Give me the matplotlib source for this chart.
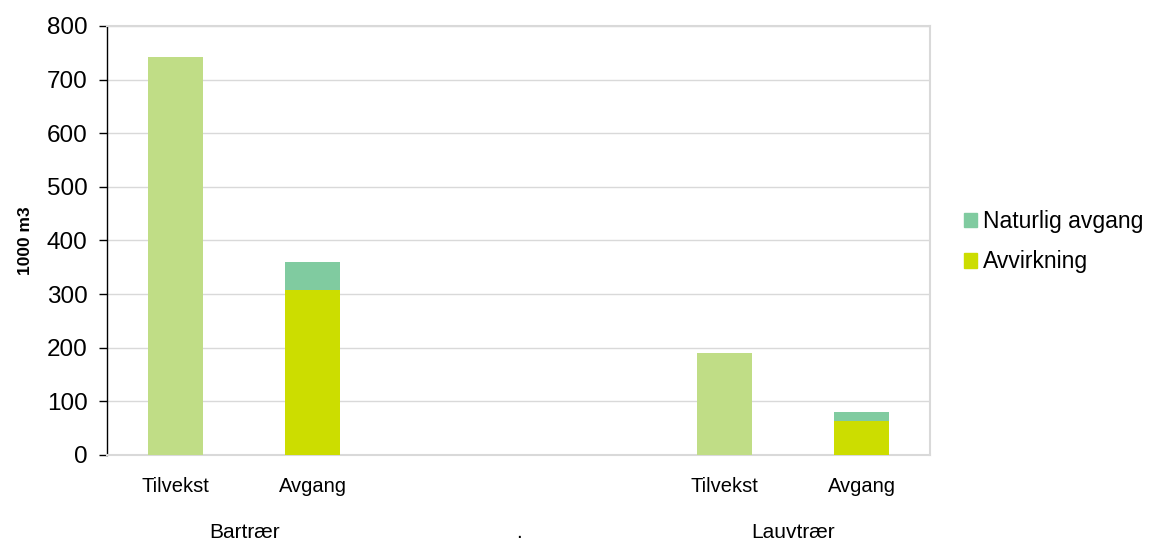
import matplotlib
matplotlib.use("Agg")
import matplotlib.pyplot as plt
from matplotlib.patches import Patch

plt.rcParams['font.family'] = ['Liberation Sans', 'DejaVu Sans']

# data
slot_labels = ['Tilvekst', 'Avgang', '', '', 'Tilvekst', 'Avgang']
group_labels = ['Bartrær', '.', 'Lauvtrær']
tilvekst = [742, 0, 0, 0, 190, 0]
avvirkning = [0, 308, 0, 0, 0, 63]
naturlig = [0, 52, 0, 0, 0, 17]
yticks = [0, 100, 200, 300, 400, 500, 600, 700, 800]

c_tilv = '#C0DD86'
c_avv = '#CCDD00'
c_nat = '#80CBA0'
grid_c = '#D9D9D9'

fig = plt.figure(figsize=(11.57, 5.41), dpi=100)
ax = fig.add_axes([0.0925, 0.159, 0.7115, 0.793])

x = list(range(len(slot_labels)))
w = 0.4
ax.bar(x, tilvekst, width=w, color=c_tilv, zorder=3)
ax.bar(x, avvirkning, width=w, color=c_avv, zorder=3)
ax.bar(x, naturlig, width=w, bottom=avvirkning, color=c_nat, zorder=3)

ax.set_xlim(-0.5, len(slot_labels) - 0.5)
ax.set_ylim(0, 800)
ax.set_yticks(yticks)
ax.set_yticklabels([str(v) for v in yticks], fontsize=17.5)
ax.yaxis.grid(True, color=grid_c, linewidth=1, zorder=0)
ax.tick_params(axis='y', direction='out', length=6, width=1, color='black', pad=8)

ax.set_xticks(x)
ax.set_xticklabels(slot_labels, fontsize=14.5)
ax.tick_params(axis='x', length=0, pad=16)

# group labels
for i, lab in enumerate(group_labels):
    ax.text(0.5 + 2 * i, -0.18, lab, transform=ax.get_xaxis_transform(),
            ha='center', va='center', fontsize=15)

ax.spines['left'].set_color('black')
ax.spines['left'].set_linewidth(1)
for s in ['top', 'right', 'bottom']:
    ax.spines[s].set_color(grid_c)
    ax.spines[s].set_linewidth(1.5)

ax.set_ylabel('1000 m3', fontsize=12.5, fontweight='bold', labelpad=10)

handles = [Patch(color=c_nat, label='Naturlig avgang'),
           Patch(color=c_avv, label='Avvirkning')]
fig.legend(handles=handles, loc='upper left', bbox_to_anchor=(0.819, 0.641),
           frameon=False, fontsize=16.5, handlelength=0.6, handleheight=0.6,
           handletextpad=0.25, labelspacing=0.75, borderpad=0.2)

fig.savefig('out.png', dpi=100)
